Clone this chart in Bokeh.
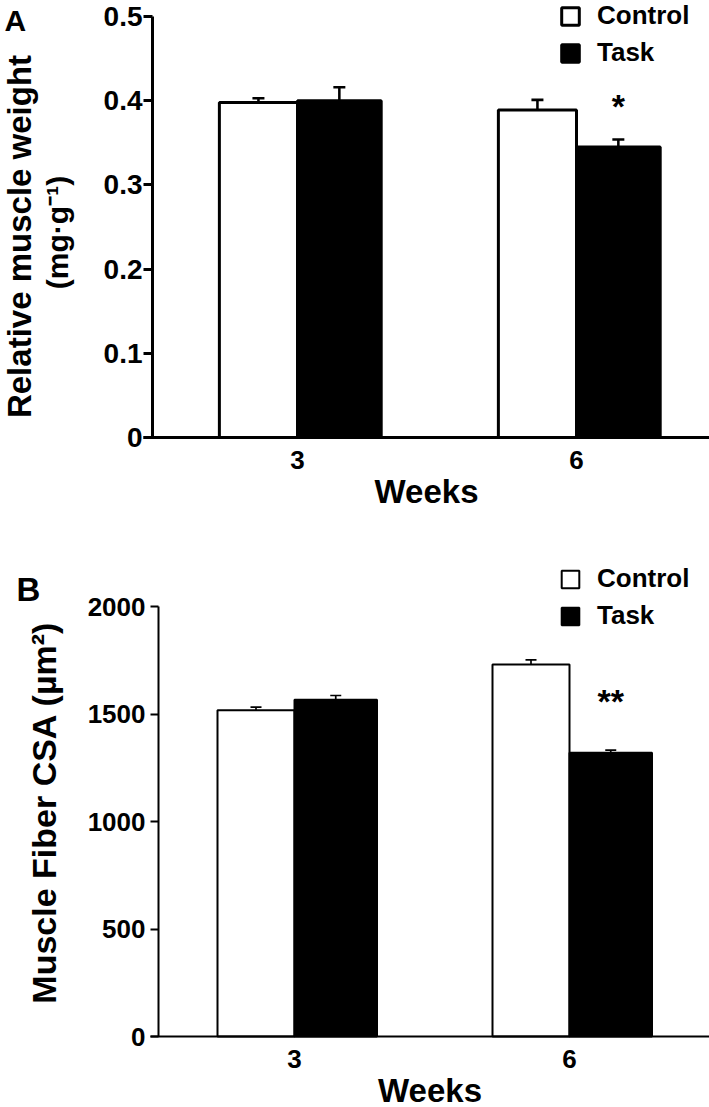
import numpy as np
from bokeh.plotting import figure
from bokeh.models import (ColumnDataSource, FixedTicker, Whisker, TeeHead, Label,
                          Legend, LegendItem)
from bokeh.layouts import column
from bokeh.embed import file_html
from bokeh.resources import INLINE

# ---------------- data ----------------
weeks = ["3", "6"]
groups = ["Control", "Task"]

weight_control = [0.398, 0.389]
weight_control_err = [0.005, 0.012]
weight_task = [0.400, 0.345]
weight_task_err = [0.016, 0.009]
weight_ticks = [0, 0.1, 0.2, 0.3, 0.4, 0.5]
weight_tick_labels = ["0", "0.1", "0.2", "0.3", "0.4", "0.5"]
weight_sig = ["", "*"]

csa_control = [1518, 1730]
csa_control_err = [14, 22]
csa_task = [1566, 1320]
csa_task_err = [20, 12]
csa_ticks = [0, 500, 1000, 1500, 2000]
csa_tick_labels = ["0", "500", "1000", "1500", "2000"]
csa_sig = ["", "**"]

FONT = "Liberation Sans"
W = 709


def make_panel(ctrl, ctrl_err, task, task_err, ticks, tick_labels, sig,
               height, c0, unit, axis_px, y0_px, ytop_px, y_end, lw, tick_out,
               ytick_size, ytick_standoff, cap, legend_xy, letter, letter_xy,
               letter_size, ylabels, star_offset):
    # layout: pixel positions on the canvas -> ranges (frame fills canvas)
    xs = -c0 / unit
    xe = (W - c0) / unit
    ppu = (y0_px - ytop_px) / y_end
    ys = -(height - y0_px) / ppu
    ye = y_end + ytop_px / ppu
    x_axis_loc = (axis_px - c0) / unit

    p = figure(width=W, height=height, x_range=(xs, xe), y_range=(ys, ye),
               toolbar_location=None, output_backend="svg",
               min_border_left=0, min_border_right=0,
               min_border_top=0, min_border_bottom=0)
    p.outline_line_color = None
    p.grid.visible = False
    p.background_fill_color = "white"
    p.border_fill_color = "white"

    idx = np.arange(len(weeks))
    cw, tw = 0.28, 0.30
    src_c = ColumnDataSource(dict(x=idx - cw / 2, top=ctrl,
                                  upper=np.array(ctrl) + np.array(ctrl_err), week=weeks))
    src_t = ColumnDataSource(dict(x=idx + tw / 2, top=task,
                                  upper=np.array(task) + np.array(task_err), week=weeks,
                                  sig=sig))

    rc = p.vbar(x="x", top="top", width=cw, bottom=0, source=src_c,
                fill_color="white", line_color="black", line_width=lw)
    rt = p.vbar(x="x", top="top", width=tw, bottom=0, source=src_t,
                fill_color="black", line_color="black", line_width=lw)

    for s in (src_c, src_t):
        w = Whisker(base="x", lower="top", upper="upper", source=s,
                    line_color="black", line_width=lw * 0.85,
                    upper_head=TeeHead(size=cap, line_color="black", line_width=lw * 0.85),
                    lower_head=None)
        p.add_layout(w)

    p.text(x="x", y="upper", text="sig", source=src_t, text_align="center",
           text_baseline="alphabetic", y_offset=star_offset,
           text_font_size="34px", text_font_style="bold", text_color="black",
           text_font={"value": FONT})

    # axes
    xa = p.xaxis[0]
    xa.fixed_location = 0
    xa.bounds = (x_axis_loc - tick_out / unit, xe)
    xa.ticker = FixedTicker(ticks=list(idx))
    xa.major_label_overrides = {int(i): w for i, w in zip(idx, weeks)}
    xa.major_tick_out = 0
    xa.major_tick_in = 0
    xa.minor_tick_line_color = None
    xa.axis_line_width = lw
    xa.axis_line_color = "black"
    xa.major_label_text_font = FONT
    xa.major_label_text_font_style = "bold"
    xa.major_label_text_font_size = "26px"
    xa.major_label_text_color = "black"
    xa.major_label_standoff = 13
    xa.axis_label = "Weeks"
    xa.axis_label_text_font = FONT
    xa.axis_label_text_font_style = "bold"
    xa.axis_label_text_font_size = "33px"
    xa.axis_label_text_color = "black"
    xa.axis_label_standoff = 1

    ya = p.yaxis[0]
    ya.fixed_location = x_axis_loc
    ya.bounds = (0, y_end)
    ya.ticker = FixedTicker(ticks=ticks)
    ya.major_label_overrides = {t: l for t, l in zip(ticks, tick_labels)}
    ya.major_tick_out = tick_out
    ya.major_tick_in = 0
    ya.minor_tick_line_color = None
    ya.axis_line_width = lw
    ya.major_tick_line_width = lw
    ya.axis_line_color = "black"
    ya.major_tick_line_color = "black"
    ya.major_label_text_font = FONT
    ya.major_label_text_font_style = "bold"
    ya.major_label_text_font_size = ytick_size
    ya.major_label_text_color = "black"
    ya.major_label_standoff = ytick_standoff

    legend = Legend(items=[LegendItem(label=groups[0], renderers=[rc]),
                           LegendItem(label=groups[1], renderers=[rt])],
                    location=legend_xy, orientation="vertical",
                    label_text_font=FONT, label_text_font_style="bold",
                    label_text_font_size="26px", label_text_color="black",
                    glyph_width=22, glyph_height=22, spacing=6, padding=0,
                    margin=0, label_standoff=16, border_line_color=None,
                    background_fill_alpha=0)
    p.add_layout(legend)

    p.add_layout(Label(x=letter_xy[0], y=height - letter_xy[1], x_units="screen",
                       y_units="screen", text=letter, text_font=FONT,
                       text_font_style="bold", text_font_size=letter_size,
                       text_align="left", text_baseline="top",
                       text_color="black"))
    for txt, lx, ly, size in ylabels:
        p.add_layout(Label(x=lx, y=height - ly, x_units="screen", y_units="screen",
                           text=txt, angle=np.pi / 2, text_font=FONT,
                           text_font_style="bold", text_font_size=size,
                           text_align="center", text_baseline="middle",
                           text_color="black"))
    return p


pA = make_panel(weight_control, weight_control_err, weight_task, weight_task_err,
                weight_ticks, weight_tick_labels, weight_sig,
                height=540, c0=297, unit=279, axis_px=152, y0_px=437, ytop_px=16,
                y_end=0.5, lw=3, tick_out=9, ytick_size="28px",
                ytick_standoff=1, cap=12, legend_xy=(559, 472),
                letter="A", letter_xy=(4, 3), letter_size="30px",
                ylabels=[("Relative muscle weight", 19, 236, "33px"),
                         ("(mg\u00b7g\u207b\u00b9)", 57, 232, "30px")],
                star_offset=-33)

pB = make_panel(csa_control, csa_control_err, csa_task, csa_task_err,
                csa_ticks, csa_tick_labels, csa_sig,
                height=567, c0=294, unit=275, axis_px=158, y0_px=496, ytop_px=66,
                y_end=2000, lw=2, tick_out=8, ytick_size="26px",
                ytick_standoff=5, cap=11, legend_xy=(559, 476),
                letter="B", letter_xy=(16, 30), letter_size="33px",
                ylabels=[("Muscle Fiber CSA (\u00b5m\u00b2)", 43, 272, "34px")],
                star_offset=-49)

layout = column(pA, pB, spacing=0)
open("out.html", "w").write(file_html(layout, INLINE))
